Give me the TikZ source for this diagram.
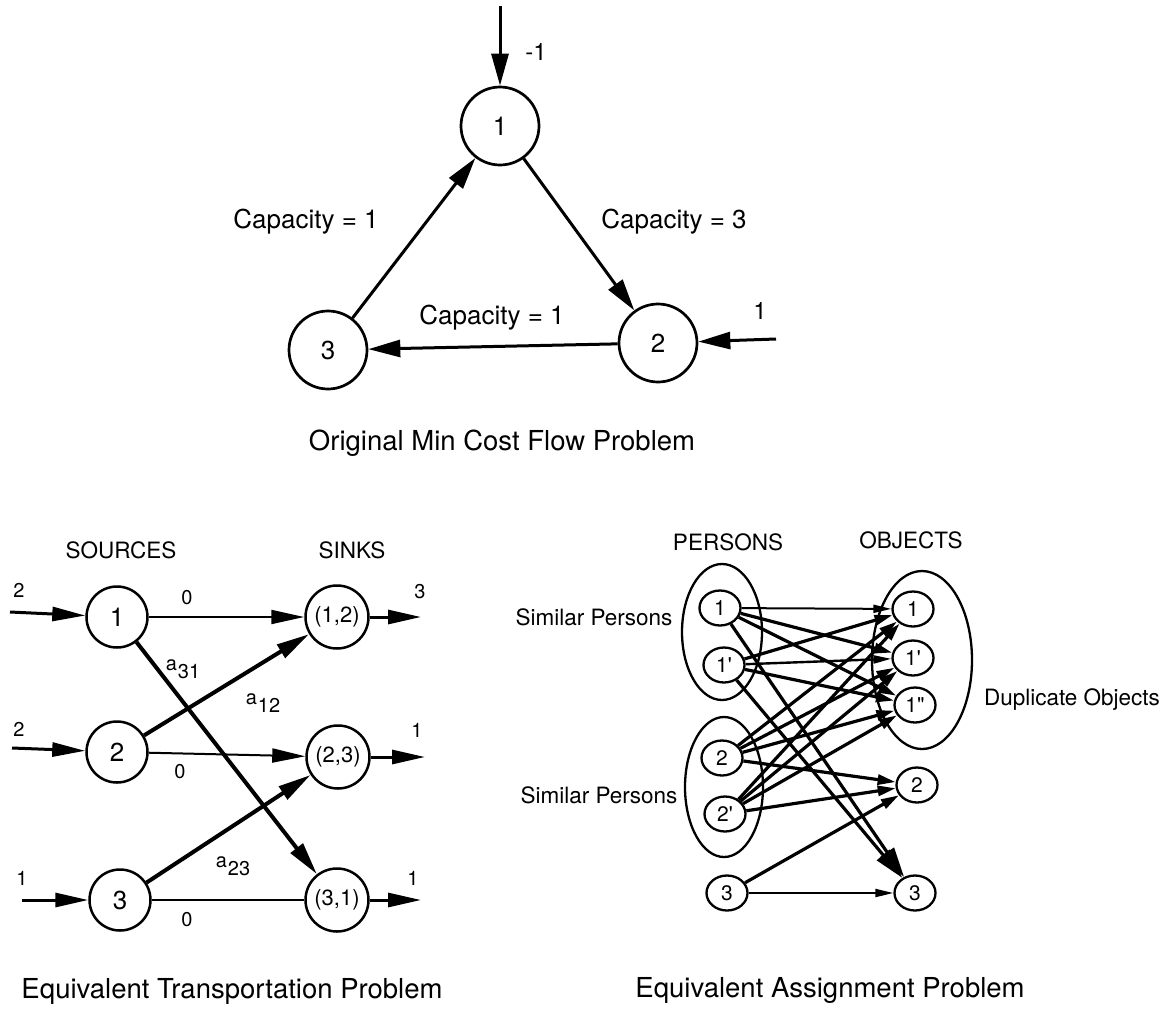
\documentclass[tikz,border=0pt]{standalone}
\usepackage{fontspec}
\setmainfont{TeX Gyre Heros}
\usetikzlibrary{arrows.meta,shapes.geometric}
\newcommand{\fs}[1]{\fontsize{#1}{#1}\selectfont}
\begin{document}
\begin{tikzpicture}[x=1pt,y=-1pt,
  bignode/.style={circle,draw,fill=white,line width=2.7pt,minimum size=78pt,inner sep=0pt,font=\fs{26}},
  srcnode/.style={circle,draw,fill=white,line width=2.5pt,minimum size=61pt,inner sep=0pt,font=\fs{26}},
  sinknode/.style={circle,draw,fill=white,line width=2.5pt,minimum size=63pt,inner sep=0pt,font=\fs{22}},
  anode/.style={ellipse,draw,fill=white,line width=2.3pt,minimum width=41pt,minimum height=35pt,inner sep=0pt,font=\fs{21}},
  grp/.style={ellipse,draw,line width=2.3pt,inner sep=0pt},
  lbl/.style={inner sep=0pt,font=\fs{26}},
  small/.style={inner sep=0pt,font=\fs{20}},
  head/.style={inner sep=0pt,font=\fs{22.5}},
  ttl/.style={inner sep=0pt,font=\fs{27.5}},
  flow/.style={line width=3pt,-{Triangle[length=32pt,width=17pt]}},
  tio/.style={line width=3pt,-{Triangle[length=33pt,width=14pt]}},
  tzero/.style={line width=2pt,-{Triangle[length=33pt,width=14pt]}},
  tplain/.style={line width=2pt},
  tcost/.style={line width=4pt,-{Triangle[length=33pt,width=15pt]}},
  athin/.style={line width=2pt,-{Triangle[length=18pt,width=8pt]}},
  athick/.style={line width=3.2pt,-{Triangle[length=18pt,width=10pt]}},
  alarge/.style={line width=3.2pt,-{Triangle[length=30pt,width=16pt]}}]
\useasboundingbox (0,0) rectangle (1170,1010);

% ---------- original min cost flow problem ----------
\node[bignode] (t1) at (500,126) {1};
\node[bignode] (t2) at (658,343) {2};
\node[bignode] (t3) at (328,350) {3};
\coordinate (t1in) at (500,6);
\coordinate (t2in) at (776,339);
\draw[flow] (t1in) -- (t1);
\draw[flow] (t2in) -- (t2);
\draw[flow] (t3) -- (t1);
\draw[flow] (t1) -- (t2);
\draw[flow] (t2) -- (t3);
\node[small,font=\fs{24}] (lm1) at (536,52) {-1};
\node[small,font=\fs{24}] (lp1) at (760,311) {1};
\node[lbl] (c31) at (306,222) {Capacity = 1};
\node[lbl] (c12) at (674,222) {Capacity = 3};
\node[lbl] (c23) at (492,318) {Capacity = 1};
\node[ttl] (ttop) at (502,443) {Original Min Cost Flow Problem};

% ---------- equivalent transportation problem ----------
\node[head] (hsrc) at (121,550) {SOURCES};
\node[head] (hsnk) at (352,550) {SINKS};
\node[srcnode] (s1) at (117,617) {1};
\node[srcnode] (s2) at (117,752) {2};
\node[srcnode] (s3) at (120,900) {3};
\node[sinknode] (k12) at (337,617) {(1,2)};
\node[sinknode] (k23) at (338,757) {(2,3)};
\node[sinknode] (k31) at (337,900) {(3,1)};
\coordinate (s1in) at (10,612);
\coordinate (s2in) at (12,748);
\coordinate (s3in) at (22,900);
\coordinate (k12out) at (421,617);
\coordinate (k23out) at (425,757);
\coordinate (k31out) at (421,900);
\draw[tio] (s1in) -- (s1);
\draw[tio] (s2in) -- (s2);
\draw[tio] (s3in) -- (s3);
\draw[tio] (k12) -- (k12out);
\draw[tio] (k23) -- (k23out);
\draw[tio] (k31) -- (k31out);
\draw[tzero] (s1) -- (k12);
\draw[tzero] (s2) -- (k23);
\draw[tplain] (s3) -- (k31);
\draw[tcost] (s1) -- (k31);
\draw[tcost] (s2) -- (k12);
\draw[tcost] (s3) -- (k23);
\node[small] (ls1) at (19,590) {2};
\node[small] (ls2) at (19,729) {2};
\node[small] (ls3) at (22,878) {1};
\node[small] (lk12) at (420,592) {3};
\node[small] (lk23) at (417,730) {1};
\node[small] (lk31) at (413,878) {1};
\node[small] (z1) at (187,598) {0};
\node[small] (z2) at (180,772) {0};
\node[small] (z3) at (187,920) {0};
\node[small] (a31) at (183,669) {a\kern1pt\raisebox{-8pt}{31}};
\node[small] (a12) at (263,703) {a\kern1pt\raisebox{-8pt}{12}};
\node[small] (a23) at (233,866) {a\kern1pt\raisebox{-8pt}{23}};
\node[ttl] (tleft) at (232,991) {Equivalent Transportation Problem};

% ---------- equivalent assignment problem ----------
\node[head] (hper) at (728,542) {PERSONS};
\node[head] (hobj) at (911,540) {OBJECTS};
\node[grp,minimum width=80pt,minimum height=136pt] (gp1) at (722,632) {};
\node[grp,minimum width=78pt,minimum height=140pt] (gp2) at (724,787) {};
\node[grp,minimum width=100pt,minimum height=178pt] (gob) at (922,660) {};
\node[head] (sim1) at (594,617) {Similar Persons};
\node[head] (sim2) at (599,795) {Similar Persons};
\node[head] (dup) at (1072,700) {Duplicate Objects};
\node[anode] (p1) at (720,608) {1};
\node[anode] (p1p) at (724,665) {1\textquotesingle};
\node[anode] (p2) at (722,758) {2};
\node[anode] (p2p) at (725,814) {2\textquotesingle};
\node[anode] (p3) at (727,893) {3};
\node[anode] (o1) at (913,609) {1};
\node[anode] (o1p) at (913,658) {1\textquotesingle};
\node[anode] (o1pp) at (915,705) {1\textquotedbl};
\node[anode] (o2) at (917,785) {2};
\node[anode] (o3) at (915,893) {3};
\draw[athin] (p1) -- (o1);
\draw[athick] (p1) -- (o1p);
\draw[athick] (p1) -- (o1pp);
\draw[alarge] (p1) -- (o3);
\draw[athick] (p1p) -- (o1);
\draw[athin,line width=2.4pt] (p1p) -- (o1p);
\draw[athick] (p1p) -- (o1pp);
\draw[alarge] (p1p) -- (o3);
\draw[athick] (p2) -- (o1);
\draw[athick] (p2) -- (o1p);
\draw[athick] (p2) -- (o1pp);
\draw[athick] (p2) -- (o2);
\draw[athick] (p2p) -- (o1);
\draw[athick] (p2p) -- (o1p);
\draw[athick] (p2p) -- (o1pp);
\draw[athick] (p2p) -- (o2);
\draw[athick] (p3) -- (o2);
\draw[athin] (p3) -- (o3);
\node[ttl] (tright) at (830,990) {Equivalent Assignment Problem};
\end{tikzpicture}
\end{document}
